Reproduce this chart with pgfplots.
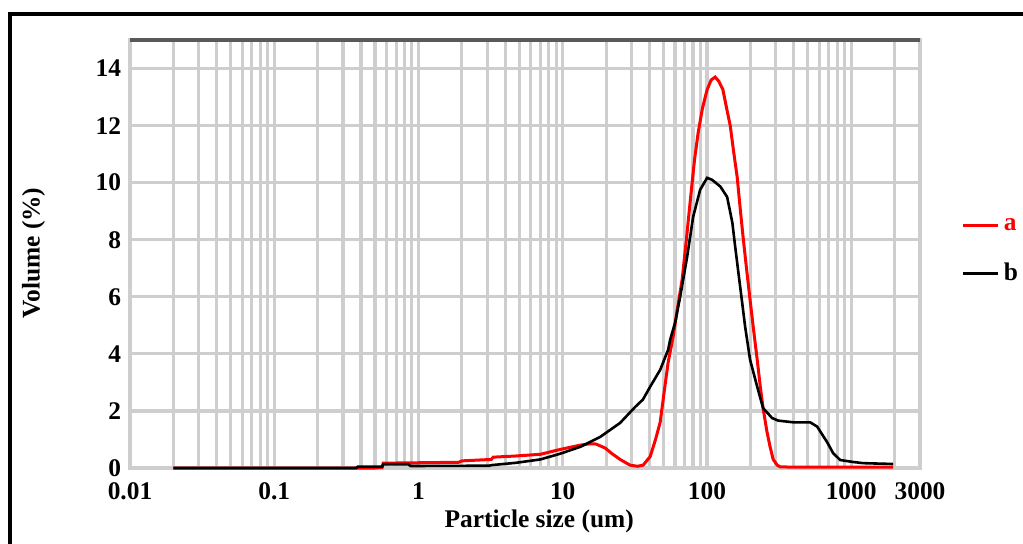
\documentclass[border=0pt]{standalone}
\usepackage{fontspec}
\setmainfont{Liberation Serif}
\usepackage{pgfplots}
\pgfplotsset{compat=1.18}

\definecolor{gridgray}{RGB}{206,206,206}
\definecolor{curvered}{RGB}{255,0,0}

\begin{document}
\begin{tikzpicture}
\useasboundingbox (0,0) rectangle (511.5bp,272bp);
% outer frame (top and left only, as in the source image)
\draw[line width=1.6bp] (5bp,0) -- (5bp,265bp) -- (511.5bp,265bp);
\begin{axis}[
  at={(65bp,38bp)}, anchor=south west,
  scale only axis, width=395bp, height=214bp,
  xmode=log, log basis x=10,
  xmin=0.01, xmax=3000, ymin=0, ymax=15,
  xtick={0.01,0.1,1,10,100,1000,3000},
  xticklabels={0.01,0.1,1,10,100,1000,3000},
  minor xtick={0.02,0.03,0.04,0.05,0.06,0.07,0.08,0.09,
               0.2,0.3,0.4,0.5,0.6,0.7,0.8,0.9,
               2,3,4,5,6,7,8,9,
               20,30,40,50,60,70,80,90,
               200,300,400,500,600,700,800,900,
               2000},
  ytick={0,2,...,14},
  grid=both,
  major grid style={draw=gridgray, line width=1.6bp},
  minor grid style={draw=gridgray, line width=1.6bp},
  axis line style={draw=gridgray, line width=1.6bp},
  tick style={draw=none},
  font=\fontsize{12.7bp}{15bp}\selectfont\bfseries,
  /pgf/number format/assume math mode=true,
  xticklabel style={yshift=-4bp},
  yticklabel style={xshift=-1bp},
  xlabel={Particle size (um)},
  ylabel={Volume (\%)},
  xlabel style={at={(axis description cs:0.518,-0.124)}, anchor=center},
  ylabel style={at={(axis description cs:-0.122,0.502)}, anchor=center},
  legend style={draw=none, fill=none, at={(1.045,0.603)}, anchor=north west,
    row sep=11bp, font=\fontsize{12.7bp}{15bp}\selectfont\bfseries},
  legend cell align=left,
  legend image code/.code={\draw[#1] (0bp,0bp) -- (17.5bp,0bp);},
  clip=false,
]
% sample a
\addplot[curvered, line width=1.5bp] coordinates {
(0.02,0) (0.5,0) (0.56,0.02) (0.57,0.17) (1.9,0.2) (2.0,0.25) (3.2,0.3) (3.3,0.38)
(4.7,0.42) (7,0.48) (9.6,0.65) (13.2,0.8) (15.5,0.85) (17,0.84) (19.7,0.7)
(22,0.5) (25,0.3) (29.3,0.1) (33,0.06) (36.1,0.1) (40.4,0.4) (44,1.0)
(47.4,1.6) (50,2.5) (53.8,3.7) (58.3,4.6) (62,5.5) (67.3,6.6) (72,8.0)
(76.4,9.3) (82,10.8) (86.9,11.75) (93,12.6) (100.3,13.26) (107,13.6)
(114,13.7) (121,13.55) (129,13.26) (137,12.6) (145,12.0) (153,11.1)
(162,10.2) (170,9.1) (178,8.1) (188,7.0) (199,5.9) (211,4.8) (223,3.8)
(235,2.8) (245,2.1) (260,1.3) (274,0.74) (288,0.3) (307,0.1) (322,0.04)
(400,0.03) (1955,0.03)
};
\addlegendentry{\textcolor{curvered}{a}}
% sample b
\addplot[black, line width=1.3bp] coordinates {
(0.02,0) (0.37,0) (0.38,0.05) (0.56,0.05) (0.57,0.13) (0.85,0.13) (0.88,0.07)
(3.1,0.08) (3.2,0.1) (4.7,0.18) (7,0.3) (9.6,0.5) (13.2,0.74) (18.2,1.09)
(25,1.58) (31.8,2.14) (36,2.4) (40.4,2.85) (47.4,3.44) (53.8,4.14) (55.6,4.5)
(60.2,5.1) (65.2,6.0) (72.9,7.4) (80.2,8.8) (89.7,9.75) (100.3,10.17)
(108.6,10.1) (124,9.86) (138,9.5) (150,8.6) (157,7.75) (170,6.35) (184,4.95)
(199,3.8) (223,2.85) (245,2.1) (283,1.75) (312,1.66) (400,1.6) (520,1.6)
(581,1.45) (682,0.9) (750,0.52) (839,0.28) (1033,0.21) (1211,0.17) (1955,0.14)
};
\addlegendentry{b}
% dark upper edge of the plot area
\draw[black!65, line width=2bp] (rel axis cs:0,1) -- (rel axis cs:1,1);
\end{axis}
\end{tikzpicture}
\end{document}
